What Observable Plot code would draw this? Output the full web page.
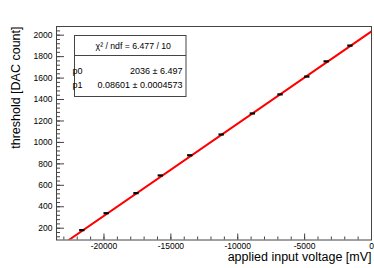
<!DOCTYPE html>
<html><head><meta charset="utf-8">
<script src="https://cdn.jsdelivr.net/npm/d3@7"></script>
<script src="https://cdn.jsdelivr.net/npm/@observablehq/plot@0.6"></script>
<style>body{margin:0;background:#fff;} #chart{width:374px;height:268px;}</style>
</head><body><div id="chart"></div>
<script>
// Measured points
const voltage   = [-21620, -19800, -17570, -15750, -13550, -11200, -8870, -6800, -4800, -3350, -1575];
const threshold = [182, 340, 527, 692, 880, 1074, 1270, 1448, 1614, 1756, 1903];
const voltageErr = [200, 200, 200, 200, 200, 200, 200, 200, 200, 200, 200];
// Fit result
const fitP0 = 2036, fitP1 = 0.08601;
const statsHeader = "χ² / ndf = 6.477 / 10";
const statsNames = ["p0", "p1"];
const statsValues = ["2036 ± 6.497", "0.08601 ± 0.0004573"];
// Axes
const xDomain = [-23550, 0];
const yDomain = [90, 2081];
const xMajorTicks = [-20000, -15000, -10000, -5000, 0];
const xMinorTicks = d3.range(-23000, 1, 1000);
const yMajorTicks = [200, 400, 600, 800, 1000, 1200, 1400, 1600, 1800, 2000];
const yMinorTicks = d3.range(120, 2081, 40);
const xTitle = "applied input voltage [mV]";
const yTitle = "threshold [DAC count]";

const points = voltage.map((v, i) => ({v, t: threshold[i], e: voltageErr[i]}));
const fitLine = xDomain.map(x => ({x, y: fitP0 + fitP1 * x}));

const axisColor = "#444";
const plot = Plot.plot({
  width: 374, height: 268,
  marginLeft: 56, marginRight: 3, marginTop: 26, marginBottom: 28.5,
  x: {domain: xDomain},
  y: {domain: yDomain},
  style: {fontFamily: "'Liberation Sans', Arial, sans-serif", fontSize: "8.5px", color: "#000", background: "#fff"},
  marks: [
    Plot.line(fitLine, {x: "x", y: "y", stroke: "#ff0000", strokeWidth: 2, clip: true}),
    Plot.ruleY(points, {y: "t", x1: d => d.v - d.e, x2: d => d.v + d.e, stroke: "#000", strokeWidth: 2.2}),
    Plot.axisX(xMinorTicks, {tickSize: -3, fill: "none", stroke: axisColor, label: null}),
    Plot.axisX(xMajorTicks, {tickSize: -6, fill: "none", stroke: axisColor, label: null}),
    Plot.axisX(xMajorTicks, {tickSize: 0, tickPadding: 2.5, tickFormat: d => String(d), label: null, fill: "#000"}),
    Plot.axisY(yMinorTicks, {tickSize: -4, fill: "none", stroke: axisColor, label: null}),
    Plot.axisY(yMajorTicks, {tickSize: -8, fill: "none", stroke: axisColor, label: null}),
    Plot.axisY(yMajorTicks, {tickSize: 0, tickPadding: 4, tickFormat: d => String(d), label: null, fill: "#000"}),
    Plot.text([xTitle], {frameAnchor: "bottom-right", dy: 21, textAnchor: "end", fontSize: 12.5, fill: "#000"}),
    Plot.text([yTitle], {frameAnchor: "top-left", dx: -45, rotate: -90, textAnchor: "end", fontSize: 12.5, fill: "#000"}),
    Plot.frame({stroke: axisColor})
  ]
});
document.getElementById("chart").appendChild(plot);

// Stats box (ROOT-style)
const svg = d3.select(plot);
const g = svg.append("g").attr("font-family", "'Liberation Sans', Arial, sans-serif").attr("font-size", 9).attr("fill", "#000");
const bx = 74.5, by = 35.5, bw = 111.5, bh = 61, hdr = 20;
g.append("rect").attr("x", bx).attr("y", by).attr("width", bw).attr("height", bh).attr("fill", "#fff").attr("stroke", axisColor);
g.append("line").attr("x1", bx).attr("x2", bx + bw).attr("y1", by + hdr).attr("y2", by + hdr).attr("stroke", axisColor);
g.append("text").attr("x", bx + bw / 2 + 3).attr("y", by + 10.3).attr("dy", "0.35em").attr("font-size", 8.7).attr("text-anchor", "middle").text(statsHeader);
statsNames.forEach((n, i) => {
  const yy = by + 35.5 + i * 14;
  g.append("text").attr("x", bx + 3).attr("y", yy).attr("dy", "0.35em").text(n);
  g.append("text").attr("x", bx + bw - 3.5).attr("y", yy).attr("dy", "0.35em").attr("text-anchor", "end").text(statsValues[i]);
});
</script></body></html>
